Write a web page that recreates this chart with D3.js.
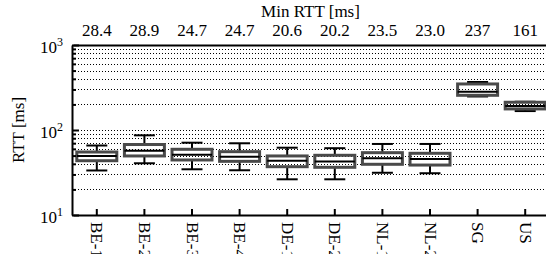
<!DOCTYPE html>
<meta charset="utf-8">
<script src="https://d3js.org/d3.v7.min.js"></script>
<style>
  body { margin: 0; background: #fff; }
</style>
<div id="chart"></div>
<script>
// categories and values (ms)
var categories = ["BE-1", "BE-2", "BE-3", "BE-4", "DE-1", "DE-2", "NL-1", "NL-2", "SG", "US"];
var minRtt = ["28.4", "28.9", "24.7", "24.7", "20.6", "20.2", "23.5", "23.0", "237", "161"];
var whiskerLow  = [33.4, 40.6, 34.5, 33.6, 26.3, 26.3, 31.4, 31.0, 248, 167];
var q1          = [43.5, 49.5, 44.4, 42.8, 37.0, 36.4, 39.5, 38.7, 256, 177];
var median      = [49.5, 57.1, 51.2, 48.5, 43.5, 42.6, 46.5, 45.6, 282, 192];
var q3          = [55.1, 67.5, 59.3, 55.6, 49.5, 50.4, 54.1, 53.2, 348, 212];
var whiskerHigh = [65.7, 86.6, 70.9, 69.8, 61.9, 61.1, 68.5, 68.5, 367, 215];
var majorTicks = [10, 100, 1000];

var FONT = "'Liberation Serif', 'DejaVu Serif', serif";
var width = 546, height = 254;
var plotL = 72, plotT = 45, plotB = 215, plotR = 549;

var svg = d3.select("#chart").append("svg")
  .attr("width", width)
  .attr("height", height)
  .style("font-family", FONT);

var x = d3.scaleBand().domain(categories).range([plotL + 1, plotR]);
var y = d3.scaleLog().domain([10, 1000]).range([plotB, plotT]);

// all decade sub-ticks
var allTicks = [];
[10, 100].forEach(function(d) {
  for (var k = 1; k < 10; k++) allTicks.push(d * k);
});
allTicks.push(1000);

// dotted grid
svg.append("g")
  .selectAll("line")
  .data(allTicks.filter(function(d) { return d > 10 && d < 1000; }))
  .enter().append("line")
  .attr("x1", plotL).attr("x2", width)
  .attr("y1", function(d) { return Math.round(y(d)) + 0.5; })
  .attr("y2", function(d) { return Math.round(y(d)) + 0.5; })
  .attr("stroke", "#000")
  .attr("stroke-width", 1)
  .attr("stroke-dasharray", "1,2");

// boxes
var data = categories.map(function(c, i) {
  return { c: c, lo: whiskerLow[i], q1: q1[i], med: median[i], q3: q3[i], hi: whiskerHigh[i] };
});
var bw = x.bandwidth() * 0.84;
var capW = 21;

var boxes = svg.append("g").selectAll("g")
  .data(data)
  .enter().append("g")
  .attr("transform", function(d) { return "translate(" + (x(d.c) + x.bandwidth() / 2) + ",0)"; });

boxes.append("line")
  .attr("x1", 0).attr("x2", 0)
  .attr("y1", function(d) { return y(d.hi); })
  .attr("y2", function(d) { return y(d.q3); })
  .attr("stroke", "#000").attr("stroke-width", 2);
boxes.append("line")
  .attr("x1", 0).attr("x2", 0)
  .attr("y1", function(d) { return y(d.q1); })
  .attr("y2", function(d) { return y(d.lo); })
  .attr("stroke", "#000").attr("stroke-width", 2);
boxes.append("line")
  .attr("x1", -capW / 2).attr("x2", capW / 2)
  .attr("y1", function(d) { return y(d.hi); })
  .attr("y2", function(d) { return y(d.hi); })
  .attr("stroke", "#000").attr("stroke-width", 2);
boxes.append("line")
  .attr("x1", -capW / 2).attr("x2", capW / 2)
  .attr("y1", function(d) { return y(d.lo); })
  .attr("y2", function(d) { return y(d.lo); })
  .attr("stroke", "#000").attr("stroke-width", 2);
boxes.append("rect")
  .attr("x", -bw / 2)
  .attr("width", bw)
  .attr("y", function(d) { return y(d.q3); })
  .attr("height", function(d) { return y(d.q1) - y(d.q3); })
  .attr("fill", "none")
  .attr("stroke", "#4a4a4a")
  .attr("stroke-width", 3);
boxes.append("line")
  .attr("x1", -bw / 2).attr("x2", bw / 2)
  .attr("y1", function(d) { return y(d.med); })
  .attr("y2", function(d) { return y(d.med); })
  .attr("stroke", "#000").attr("stroke-width", 2);

// left axis, ticks inward
var yAxis = svg.append("g")
  .attr("transform", "translate(" + plotL + ",0)")
  .call(d3.axisLeft(y).tickValues(allTicks).tickSizeOuter(0).tickFormat(""));
yAxis.select(".domain").attr("stroke-width", 2);
yAxis.selectAll(".tick line")
  .attr("x2", function(d) { return majorTicks.indexOf(d) >= 0 ? 7 : 4; })
  .attr("stroke-width", 2);

var yLabels = svg.append("g").selectAll("text")
  .data(majorTicks)
  .enter().append("text")
  .attr("x", plotL - 9)
  .attr("y", function(d) { return y(d) + 8; })
  .attr("text-anchor", "end")
  .attr("font-family", FONT)
  .attr("font-size", 17);
yLabels.append("tspan").text("10");
yLabels.append("tspan")
  .attr("dy", -7)
  .attr("font-size", 12)
  .text(function(d) { return Math.round(Math.log10(d)); });

svg.append("text")
  .attr("transform", "translate(24," + ((plotT + plotB) / 2) + ") rotate(-90)")
  .attr("text-anchor", "middle")
  .attr("font-family", FONT)
  .attr("font-size", 17)
  .text("RTT [ms]");

// bottom axis, ticks inward, rotated labels
var xAxis = svg.append("g")
  .attr("transform", "translate(0," + plotB + ")")
  .call(d3.axisBottom(x).tickSizeInner(-6).tickSizeOuter(0).tickPadding(0));
xAxis.attr("font-family", FONT);
xAxis.select(".domain").attr("stroke-width", 2);
xAxis.selectAll(".tick line").attr("stroke-width", 2);
xAxis.selectAll(".tick text")
  .attr("font-family", FONT)
  .attr("font-size", 17)
  .attr("fill", "#000")
  .attr("text-anchor", "start")
  .attr("transform", "translate(0,7) rotate(90)")
  .attr("x", 0).attr("y", 0).attr("dy", "0.32em");

// top axis with min RTT
var topAxis = svg.append("g")
  .attr("transform", "translate(0," + plotT + ")")
  .call(d3.axisTop(x).tickSize(0).tickSizeOuter(0).tickPadding(9)
    .tickFormat(function(d, i) { return minRtt[i]; }));
topAxis.attr("font-family", FONT);
topAxis.select(".domain").attr("stroke-width", 2);
topAxis.selectAll(".tick text")
  .attr("font-family", FONT)
  .attr("font-size", 17)
  .attr("fill", "#000");

svg.append("text")
  .attr("x", (plotL + plotR) / 2)
  .attr("y", 17)
  .attr("text-anchor", "middle")
  .attr("font-family", FONT)
  .attr("font-size", 17)
  .text("Min RTT [ms]");
</script>
